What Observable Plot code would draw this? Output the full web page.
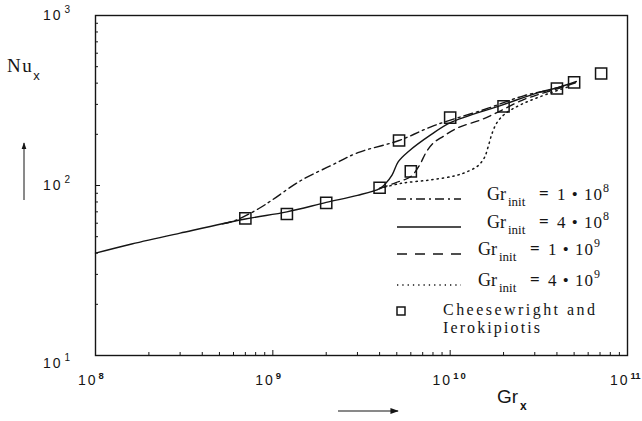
<!DOCTYPE html>
<html><head><meta charset="utf-8">
<script src="https://cdn.jsdelivr.net/npm/d3@7"></script>
<script src="https://cdn.jsdelivr.net/npm/@observablehq/plot@0.6"></script>
<style>
body{margin:0;background:#fff;}
#wrap{position:relative;width:642px;height:421px;overflow:hidden;}
</style></head><body><div id="wrap"></div>
<script>
// ---- tick labels ----
const xTicks = [1e8, 1e9, 1e10, 1e11];
const xTickExp = ["8", "9", "10", "11"];
const yTicks = [100, 1000];
const yTickExp = ["2", "3"];
const yBottomTick = [10];
const yBottomExp = ["1"];

// ---- Gr_init = 4e8 (solid, also the laminar part shared by all) ----
const solidGr = [1e8, 1.6e8, 3e8, 7e8, 1.2e9, 2e9, 3e9, 4e9, 4.3e9, 4.7e9, 5.1e9, 5.8e9, 7.8e9, 1.01e10, 1.94e10, 3.14e10, 4.07e10, 5.15e10];
const solidNu = [40, 45.3, 52.5, 63.5, 70, 79.5, 87.5, 96, 102, 115, 138, 158, 199, 235, 296, 352, 377, 409];

// ---- Gr_init = 1e8 (dash-dot) ----
const dashDotGr = [5.2e8, 6.2e8, 8.3e8, 9.8e8, 1.44e9, 2.13e9, 3.02e9, 5.15e9, 8.1e9, 1.56e10, 2.62e10, 3.72e10, 4.5e10];
const dashDotNu = [59.5, 62.5, 73, 81.5, 107, 131, 156, 184, 225, 280, 338, 367, 392];

// ---- Gr_init = 1e9 (dashed) ----
const dashedGr = [4e9, 4.95e9, 6.0e9, 6.7e9, 7.3e9, 8.0e9, 9.1e9, 1.11e10, 1.5e10, 1.94e10, 2.52e10, 3.14e10, 4.07e10, 5.15e10];
const dashedNu = [96, 104, 113, 131, 156, 177, 194, 219, 244, 276, 316, 343, 372, 404];

// ---- Gr_init = 4e9 (dotted) ----
const dottedGr = [4e9, 5.3e9, 7.8e9, 1.08e10, 1.28e10, 1.44e10, 1.56e10, 1.64e10, 1.73e10, 1.84e10, 2.02e10, 2.52e10, 3.72e10, 4.8e10];
const dottedNu = [96, 103, 108, 114.5, 122, 131, 146, 170, 205, 235, 262, 300, 352, 385];

// ---- Cheesewright and Ierokipiotis (squares) ----
const expGr = [7e8, 1.2e9, 2e9, 4e9, 5.15e9, 6e9, 1e10, 2e10, 4e10, 5e10, 7.1e10];
const expNu = [64, 68, 79, 97, 184, 121, 251, 292, 372, 404, 456];

// ---- legend ----
const legendBase = ["1", "4", "1", "4"];
const legendExp = ["8", "8", "9", "9"];

const toRows = (gr, nu) => gr.map((g, i) => ({gr: g, nu: nu[i]}));
const minor = (lo, hi) => { const a = []; for (let e = lo; e < hi; e++) for (let k = 2; k <= 9; k++) a.push(k * 10 ** e); return a; };
const xMinor = minor(8, 11);
const yMinor = minor(1, 3);

const INK = "#151515";
const SERIF = "'Liberation Serif', 'DejaVu Serif', serif";
const SANS = "'Liberation Sans', Arial, sans-serif";

const dashes = {dd: "9,4,2,4", solid: null, dash: "8,5", dot: "1.3,4"};

const lineOpts = (da) => ({x: "gr", y: "nu", curve: "catmull-rom", stroke: INK, strokeWidth: 1.4, strokeDasharray: da});

const chart = Plot.plot({
  width: 642, height: 421,
  marginLeft: 95, marginRight: 15, marginTop: 15, marginBottom: 66,
  x: {type: "log", domain: [1e8, 1e11], axis: null},
  y: {type: "log", domain: [10, 1000], axis: null},
  style: {background: "white", overflow: "visible"},
  marks: [
    Plot.axisX({anchor: "bottom", ticks: xMinor, tickSize: -3, tickFormat: () => "", label: null, stroke: INK}),
    Plot.axisX({anchor: "bottom", ticks: xTicks, tickSize: -5, tickFormat: () => "", label: null, stroke: INK}),
    Plot.axisY({anchor: "left", ticks: yMinor, tickSize: -3, tickFormat: () => "", label: null, stroke: INK}),
    Plot.axisY({anchor: "left", ticks: yTicks, tickSize: -5, tickFormat: () => "", label: null, stroke: INK}),
    Plot.frame({stroke: INK, strokeWidth: 1.4}),
    Plot.line(toRows(solidGr, solidNu), lineOpts(dashes.solid)),
    Plot.line(toRows(dashDotGr, dashDotNu), lineOpts(dashes.dd)),
    Plot.line(toRows(dashedGr, dashedNu), lineOpts(dashes.dash)),
    Plot.line(toRows(dottedGr, dottedNu), {...lineOpts(dashes.dot), strokeWidth: 1.5}),
    Plot.dot(toRows(expGr, expNu), {x: "gr", y: "nu", symbol: "square", r: 6.3, stroke: INK, strokeWidth: 1.5, fill: "none"}),
    // x tick labels
    Plot.text(xTicks, {x: d => d, frameAnchor: "bottom", text: () => "10", textAnchor: "end", dx: 2, dy: 29, fontSize: 14, fontFamily: SANS, fill: INK}),
    Plot.text(xTicks, {x: d => d, frameAnchor: "bottom", text: (d, i) => xTickExp[i], textAnchor: "start", dx: 3, dy: 23, fontSize: 9.5, fontWeight: "bold", fontFamily: SANS, fill: INK}),
    // y tick labels
    Plot.text(yTicks, {y: d => d, frameAnchor: "left", text: () => "10", textAnchor: "end", dx: -33, dy: 0, fontSize: 14, fontFamily: SANS, fill: INK}),
    Plot.text(yTicks, {y: d => d, frameAnchor: "left", text: (d, i) => yTickExp[i], textAnchor: "start", dx: -31, dy: -6, fontSize: 10, fontFamily: SANS, fill: INK}),
    Plot.text(yBottomTick, {y: d => d, frameAnchor: "left", text: () => "10", textAnchor: "end", dx: -33, dy: 8, fontSize: 14, fontFamily: SANS, fill: INK}),
    Plot.text(yBottomTick, {y: d => d, frameAnchor: "left", text: (d, i) => yBottomExp[i], textAnchor: "start", dx: -31, dy: 2, fontSize: 10, fontFamily: SANS, fill: INK})
  ]
});
chart.querySelectorAll("text").forEach(t => { if (t.textContent === "10" && t.getAttribute("font-size") !== "9.5") t.setAttribute("letter-spacing", "2"); });
document.getElementById("wrap").appendChild(chart);

// ---- overlay: axis titles, arrows, legend ----
const ov = d3.select("#wrap").append("svg")
  .attr("width", 642).attr("height", 421)
  .style("position", "absolute").style("left", "0px").style("top", "0px");
const defs = ov.append("defs");
defs.append("marker").attr("id", "ah").attr("viewBox", "0 0 10 10").attr("refX", 9).attr("refY", 5)
  .attr("markerWidth", 7).attr("markerHeight", 7).attr("orient", "auto")
  .append("path").attr("d", "M0,1.5L10,5L0,8.5Z").attr("fill", INK);

// Nu_x
const nu = ov.append("text").attr("x", 7).attr("y", 72).attr("font-family", SERIF).attr("font-size", 19).attr("fill", INK).attr("letter-spacing", 1.5);
nu.append("tspan").text("Nu");
nu.append("tspan").attr("font-size", 13).attr("dy", 8).attr("font-family", SANS).text("x");
ov.append("line").attr("x1", 24).attr("x2", 24).attr("y1", 200).attr("y2", 143)
  .attr("stroke", INK).attr("stroke-width", 1).attr("marker-end", "url(#ah)");

// Gr_x
const gx = ov.append("text").attr("x", 497).attr("y", 403).attr("font-family", SANS).attr("font-size", 19).attr("fill", INK);
gx.append("tspan").text("Gr");
gx.append("tspan").attr("font-size", 12).attr("font-weight", "bold").attr("dy", 7).attr("dx", 2).text("x");
ov.append("line").attr("x1", 338).attr("x2", 398).attr("y1", 411).attr("y2", 411)
  .attr("stroke", INK).attr("stroke-width", 1.2).attr("marker-end", "url(#ah)");

// legend rows
const rowX = [487, 487, 478, 478];
const rowY = [200, 228, 255, 286];
const rowDash = [dashes.dd, dashes.solid, "10,8", "1.3,4"];
rowY.forEach((y, i) => {
  ov.append("line").attr("x1", 397).attr("x2", 461).attr("y1", y - 1).attr("y2", y - 1)
    .attr("stroke", INK).attr("stroke-width", 1.4).attr("stroke-dasharray", rowDash[i]);
  const bx = rowX[i];
  const t = ov.append("text").attr("font-family", SERIF).attr("fill", INK);
  t.append("tspan").attr("x", bx).attr("y", y).attr("font-size", 18).text("Gr");
  t.append("tspan").attr("x", bx + 21).attr("y", y + 6).attr("font-size", 13).text("init");
  t.append("tspan").attr("x", bx + 52).attr("y", y - 1).attr("font-size", 17).attr("font-weight", "bold").text("=");
  t.append("tspan").attr("x", bx + 70).attr("y", y).attr("font-size", 17).attr("letter-spacing", 1).text(legendBase[i] + " • 10");
  t.append("tspan").attr("x", bx + 116).attr("y", y - 8).attr("font-size", 12).text(legendExp[i]);
});
ov.append("rect").attr("x", 397).attr("y", 307).attr("width", 8).attr("height", 8)
  .attr("fill", "none").attr("stroke", INK).attr("stroke-width", 1.5);
ov.append("text").attr("font-family", SERIF).attr("font-size", 16).attr("fill", INK)
  .attr("x", 443).attr("y", 315).attr("textLength", 152).text("Cheesewright and");
ov.append("text").attr("font-family", SERIF).attr("font-size", 16).attr("fill", INK)
  .attr("x", 443).attr("y", 333).attr("textLength", 97).text("Ierokipiotis");
</script>
</body></html>
